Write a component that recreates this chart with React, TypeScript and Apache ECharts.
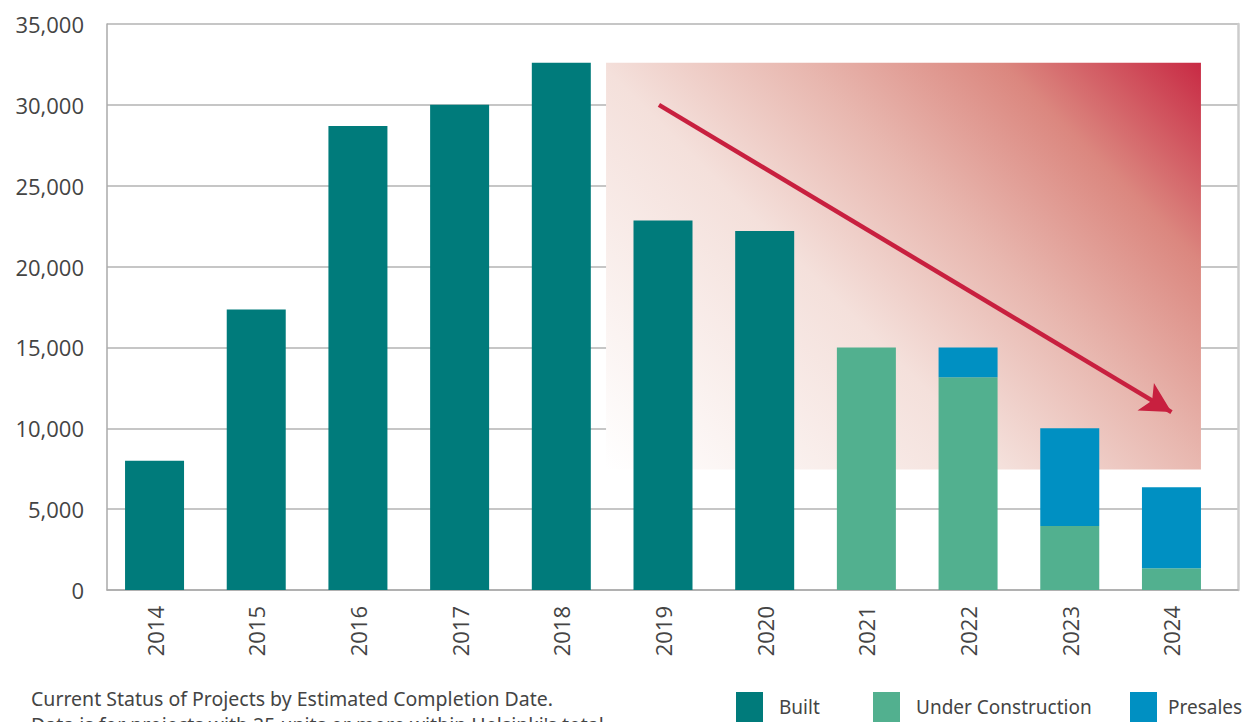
import React, { useEffect, useRef } from "react";
import * as echarts from "echarts";

const years = ["2014", "2015", "2016", "2017", "2018", "2019", "2020", "2021", "2022", "2023", "2024"];
const built = [8000, 17350, 28700, 30000, 32600, 22850, 22200, "-", "-", "-", "-"];
const underConstruction = ["-", "-", "-", "-", "-", "-", "-", 15000, 13150, 3950, 1350];
const presales = ["-", "-", "-", "-", "-", "-", "-", "-", 1850, 6050, 5000];
const yTicks = [0, 5000, 10000, 15000, 20000, 25000, 30000, 35000];
const caption = [
  "Current Status of Projects by Estimated Completion Date.",
  "Data is for projects with 25 units or more within Helsinki's total",
];
// highlighted decline region (category-index units, values)
const highlightX = [4.44, 10.29];
const highlightY = [7450, 32600];
// trend arrow from / to (category-index units, values)
const arrowFrom = [4.96, 30000];
const arrowTo = [10, 11000];

const COLORS = { built: "#007B7B", uc: "#52B08F", presales: "#0090C2" };
const AXIS_FONT = "'Open Sans', 'Noto Sans', sans-serif";
const TEXT_FONT = "'Noto Sans', 'Open Sans', sans-serif";

export default function App() {
  const ref = useRef<HTMLDivElement>(null);
  useEffect(() => {
    if (!ref.current) return;
    const chart = echarts.init(ref.current, null, { renderer: "svg" });
    const gradient = new echarts.graphic.LinearGradient(0, 1, 1.147, 0.216, [
      { offset: 0, color: "#FFFFFF" },
      { offset: 0.4, color: "#F4E0DB" },
      { offset: 0.6, color: "#E8B7AF" },
      { offset: 0.8, color: "#DB877F" },
      { offset: 1, color: "#C82A44" },
    ]);
    const legendBase = {
      top: 687,
      itemWidth: 27,
      itemHeight: 30,
      icon: "rect",
      selectedMode: false,
    };
    const legendText = (padLeft: number) => ({
      fontSize: 19,
      color: "#444",
      fontFamily: TEXT_FONT,
      padding: [0, 0, 0, padLeft],
    });
    chart.setOption({
      animation: false,
      backgroundColor: "#ffffff",
      grid: [
        { left: 107, right: 8, top: 24, bottom: 132 },
        { left: 103.7, right: 23.7, top: 24, bottom: 132 },
      ],
      legend: [
        { ...legendBase, data: ["Built"], left: 731, textStyle: legendText(11) },
        { ...legendBase, data: ["Under Construction"], left: 868, textStyle: legendText(11) },
        { ...legendBase, data: ["Presales"], left: 1125, textStyle: legendText(6) },
      ],
      xAxis: [
        {
          gridIndex: 0,
          type: "value",
          min: 0,
          max: 1,
          axisLine: { show: true, lineStyle: { color: "#aaaaaa", width: 1.5 } },
          axisTick: { show: false },
          axisLabel: { show: false },
          splitLine: { show: false },
        },
        {
          gridIndex: 1,
          type: "category",
          data: years,
          axisLine: { show: false },
          axisTick: { show: false },
          axisLabel: { rotate: 90, margin: 16, fontSize: 22, color: "#444", fontFamily: AXIS_FONT },
        },
        { gridIndex: 1, type: "value", min: -0.5, max: 10.5, show: false },
      ],
      yAxis: [
        {
          gridIndex: 0,
          type: "value",
          min: 0,
          max: 35000,
          interval: 5000,
          axisLine: { show: true, lineStyle: { color: "#aaaaaa", width: 1.5 } },
          axisTick: { show: false },
          axisLabel: {
            margin: 23,
            fontSize: 22,
            color: "#444",
            fontFamily: AXIS_FONT,
            formatter: (v: number) => (yTicks.includes(v) ? v.toLocaleString("en-US") : ""),
          },
          splitLine: { show: true, lineStyle: { color: "#b3b3b3", width: 1.5 } },
        },
        {
          gridIndex: 0,
          type: "value",
          position: "right",
          min: 0,
          max: 35000,
          axisLine: { show: true, lineStyle: { color: "#cccccc", width: 2.5 } },
          axisTick: { show: false },
          axisLabel: { show: false },
          splitLine: { show: false },
        },
        { gridIndex: 1, type: "value", min: 0, max: 35000, show: false },
      ],
      series: [
        {
          type: "scatter",
          xAxisIndex: 2,
          yAxisIndex: 2,
          data: [],
          z: -1,
          silent: true,
          markArea: {
            silent: true,
            label: { show: false },
            itemStyle: { color: gradient },
            data: [[{ coord: [highlightX[0], highlightY[1]] }, { coord: [highlightX[1], highlightY[0]] }]],
          },
        },
        {
          name: "Built",
          type: "bar",
          stack: "total",
          xAxisIndex: 1,
          yAxisIndex: 2,
          barWidth: 59,
          itemStyle: { color: COLORS.built },
          data: built,
        },
        {
          name: "Under Construction",
          type: "bar",
          stack: "total",
          xAxisIndex: 1,
          yAxisIndex: 2,
          barWidth: 59,
          itemStyle: { color: COLORS.uc },
          data: underConstruction,
        },
        {
          name: "Presales",
          type: "bar",
          stack: "total",
          xAxisIndex: 1,
          yAxisIndex: 2,
          barWidth: 59,
          itemStyle: { color: COLORS.presales },
          data: presales,
        },
        {
          type: "scatter",
          xAxisIndex: 2,
          yAxisIndex: 2,
          data: [],
          z: 10,
          silent: true,
          markLine: {
            silent: true,
            symbol: ["none", "arrow"],
            symbolSize: [24, 30],
            label: { show: false },
            lineStyle: { color: "#C8203F", width: 4.5, type: "solid" },
            data: [[{ coord: arrowFrom }, { coord: arrowTo }]],
          },
        },
      ],
      graphic: [
        {
          type: "text",
          left: 31,
          top: 685,
          style: {
            text: caption.join("\n"),
            fontSize: 19.5,
            lineHeight: 26,
            fill: "#444",
            fontFamily: TEXT_FONT,
          },
        },
      ],
    });
    return () => chart.dispose();
  }, []);
  return (
    <div
      ref={ref}
      style={{ position: "fixed", left: 0, top: 0, width: 1246, height: 722, background: "#fff" }}
    />
  );
}
